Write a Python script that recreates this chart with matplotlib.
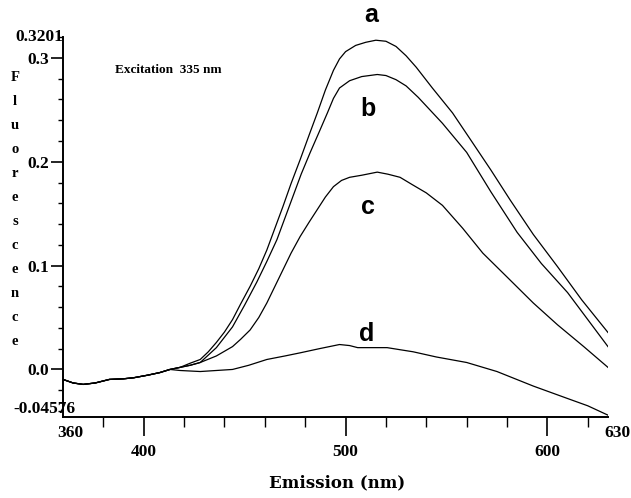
import matplotlib
matplotlib.use("Agg")
import matplotlib.pyplot as plt
from matplotlib.ticker import MultipleLocator, FixedLocator

# emission spectra (nm, fluorescence)
start_wl = [360, 365, 370, 376, 383, 390, 395, 402, 408, 413, 418]
start_fl = [-0.0096, -0.013, -0.0144, -0.013, -0.0096, -0.009, -0.008, -0.0055, -0.003, 0.0, 0.002]

wl_a = start_wl + [423, 428, 432, 436, 440, 444, 448, 452.7, 457, 461, 465, 469, 473, 477.5,
                   482, 486, 490, 494, 497, 500, 505, 510, 515, 520, 525, 530, 535, 543,
                   553, 562, 572, 581.6, 593, 605, 617, 630]
fl_a = start_fl + [0.006, 0.0096, 0.017, 0.026, 0.036, 0.048, 0.063, 0.080, 0.097, 0.115,
                   0.136, 0.157, 0.179, 0.202, 0.226, 0.247, 0.269, 0.288, 0.299, 0.306,
                   0.312, 0.315, 0.317, 0.316, 0.311, 0.302, 0.291, 0.271, 0.247, 0.221,
                   0.192, 0.163, 0.130, 0.099, 0.067, 0.0356]

wl_b = start_wl + [423, 428, 436, 444, 450, 456, 461, 466, 470, 474, 478, 482.5, 487, 491,
                   494, 497, 502, 508, 515.7, 520, 525, 530, 536, 548, 560, 572, 585, 597,
                   610, 620, 630]
fl_b = start_fl + [0.004, 0.0067, 0.021, 0.041, 0.062, 0.084, 0.104, 0.125, 0.146, 0.167,
                   0.188, 0.209, 0.229, 0.247, 0.261, 0.271, 0.278, 0.282, 0.284, 0.283,
                   0.279, 0.273, 0.262, 0.237, 0.209, 0.171, 0.132, 0.102, 0.074, 0.048,
                   0.022]

wl_c = start_wl + [423, 428, 436, 444, 448, 452.7, 457, 461, 465, 469, 473, 477.5, 482, 486,
                   490, 494, 498, 502, 508, 515.7, 521, 527, 533, 540, 548, 558, 568, 580,
                   593, 605, 618, 630]
fl_c = start_fl + [0.004, 0.0067, 0.013, 0.022, 0.029, 0.038, 0.050, 0.064, 0.080, 0.096,
                   0.112, 0.128, 0.142, 0.154, 0.166, 0.176, 0.182, 0.185, 0.187, 0.190,
                   0.188, 0.185, 0.178, 0.170, 0.158, 0.136, 0.112, 0.089, 0.064, 0.043,
                   0.022, 0.002]

wl_d = start_wl[:-1] + [418, 428, 436, 444, 452, 461, 470, 477.5, 487, 497, 502, 506, 513,
                        520.6, 527, 533.5, 545, 560, 575, 593, 610, 620, 630]
fl_d = start_fl[:-1] + [-0.001, -0.002, -0.001, 0.0, 0.004, 0.0096, 0.013, 0.016, 0.020,
                        0.024, 0.023, 0.021, 0.021, 0.021, 0.019, 0.017, 0.012, 0.0067,
                        -0.002, -0.016, -0.028, -0.035, -0.044]

curve_names = ["a", "b", "c", "d"]
name_pos = [(512.7, 0.341), (511.2, 0.251), (511.2, 0.156), (510.7, 0.034)]

x_min, x_max = 360, 630
y_min, y_max = -0.04576, 0.3201

serif = "Liberation Serif"

fig = plt.figure(figsize=(6.31, 4.98), dpi=100)
ax = fig.add_axes([0.0998, 0.1627, 0.8637, 0.763])

for wl, fl in [(wl_a, fl_a), (wl_b, fl_b), (wl_c, fl_c), (wl_d, fl_d)]:
    ax.plot(wl, fl, color="black", lw=0.9)

for name, (x, y) in zip(curve_names, name_pos):
    ax.text(x, y, name, fontsize=18, fontweight="bold", family="Liberation Sans",
            ha="center", va="center")

ax.set_xlim(x_min, x_max)
ax.set_ylim(y_min, y_max)

ax.spines["top"].set_visible(False)
ax.spines["right"].set_visible(False)
ax.spines["left"].set_linewidth(1.4)
ax.spines["bottom"].set_linewidth(1.4)

ax.xaxis.set_major_locator(FixedLocator([400, 500, 600]))
ax.xaxis.set_minor_locator(FixedLocator([380, 420, 440, 460, 480, 520, 540, 560, 580, 620]))
ax.yaxis.set_major_locator(FixedLocator([0.0, 0.1, 0.2, 0.3]))
ax.yaxis.set_minor_locator(MultipleLocator(0.02))
ax.set_xticklabels(["400", "500", "600"])
ax.set_yticklabels(["0.0", "0.1", "0.2", "0.3"])

ax.tick_params(axis="x", which="major", direction="out", length=13.5, width=1.2, pad=6)
ax.tick_params(axis="x", which="minor", direction="out", length=7.5, width=1.0)
ax.tick_params(axis="y", which="major", direction="out", length=9, width=1.2, pad=1)
ax.tick_params(axis="y", which="minor", direction="out", length=3.6, width=1.0)
for lbl in ax.get_xticklabels() + ax.get_yticklabels():
    lbl.set_family(serif)
    lbl.set_fontweight("bold")
    lbl.set_fontsize(12.5)

# range labels at the axis ends
ax.text(0, 1.0, "0.3201", transform=ax.transAxes, ha="right", va="center",
        family=serif, fontweight="bold", fontsize=12.5)
ax.text(0.023, 0.0, "-0.04576", transform=ax.transAxes, ha="right", va="bottom",
        family=serif, fontweight="bold", fontsize=12.5)
ax.text(0.013, -0.02, "360", transform=ax.transAxes, ha="center", va="top",
        family=serif, fontweight="bold", fontsize=12.5)
ax.text(1.017, -0.02, "630", transform=ax.transAxes, ha="center", va="top",
        family=serif, fontweight="bold", fontsize=12.5)

fig.text(0.266, 0.859, "Excitation  335 nm", ha="center", va="center",
         family=serif, fontweight="bold", fontsize=9.5)
fig.text(0.024, 0.579, "\n".join("Fluorescence"), ha="center", va="center",
         family=serif, fontweight="bold", fontsize=10.5, linespacing=2.1)
fig.text(0.534, 0.03, "Emission (nm)", ha="center", va="center",
         family="DejaVu Serif", fontweight="bold", fontsize=12)

fig.savefig("out.png", dpi=100)
